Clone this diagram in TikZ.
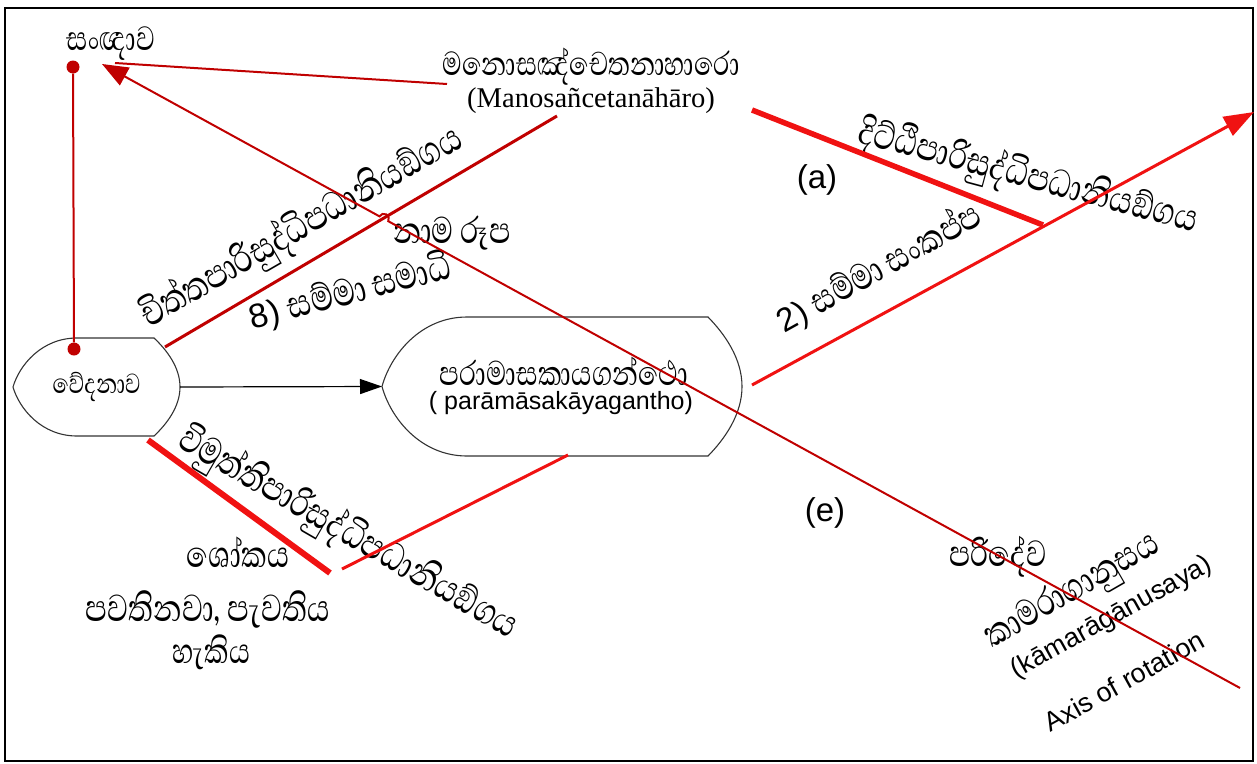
\documentclass[tikz,border=0pt]{standalone}
\usepackage{fontspec}
\usetikzlibrary{arrows.meta,calc}
\newfontfamily\slfont[Script=Sinhala]{Abhaya Libre}
\newfontfamily\arialf{Liberation Sans}
\newfontfamily\timesf{Liberation Serif}
\definecolor{dred}{RGB}{192,0,0}
\definecolor{bred}{RGB}{240,18,18}
\newcommand{\sfit}[2]{\scalebox{1}[1.3]{\resizebox{#1pt}{!}{\slfont #2}}}
\newcommand{\dispshape}[4]{%
  \draw[shapeline] ($(#1.north west)+(#2,0)$) -- ($(#1.north east)+(-#3,0)$)
    .. controls ($(#1.north east)+(-0.5*#3,0.25*#4)$) and ($(#1.east)+(0,-0.4*#4)$) .. (#1.east)
    .. controls ($(#1.east)+(0,0.4*#4)$) and ($(#1.south east)+(-0.5*#3,-0.25*#4)$) .. ($(#1.south east)+(-#3,0)$)
    -- ($(#1.south west)+(#2,0)$)
    .. controls ($(#1.south west)+(0.45*#2,0)$) and ($(#1.west)+(0.1*#2,0.45*#4)$) .. (#1.west)
    .. controls ($(#1.west)+(0.1*#2,-0.45*#4)$) and ($(#1.north west)+(0.45*#2,0)$) .. cycle;}
\begin{document}
\begin{tikzpicture}[x=1pt,y=-1pt,
  shapeline/.style={draw=black!80, line width=1.1pt},
  holder/.style={inner sep=0pt, outer sep=0pt},
  txt/.style={inner sep=0pt, outer sep=0pt},
  ar/.style={txt, font=\arialf\fontsize{25}{28}\selectfont},
  arbig/.style={txt, font=\arialf\fontsize{33}{36}\selectfont},
  dot/.style={circle, fill=dred, inner sep=0pt, minimum size=13pt},
  darkline/.style={draw=dred, line width=2pt},
  darkthick/.style={draw=dred, line width=3pt},
  brightline/.style={draw=bred, line width=3pt},
  brightthick/.style={draw=bred, line width=6pt},
  blackarrow/.style={draw=black, line width=1.2pt, -{Triangle[length=22pt,width=15pt]}}
]
\useasboundingbox (0,0) rectangle (1257,763);
\draw[line width=2.5pt] (5,8) rectangle (1253,761);

% shapes
\node[holder, minimum width=167pt, minimum height=98pt] (ved) at (96.5,387) {\sfit{88}{වේදනාව}};
\dispshape{ved}{64}{26}{49}
\node[holder, minimum width=360pt, minimum height=139pt] (par) at (562,386.5) {};
\dispshape{par}{85}{34}{69.5}
\node[txt] (parsi) at (564,371) {\sfit{248}{පරාමාසකායගන්ථො}};
\node[ar] (parla) at (561,403) {( parāmāsakāyagantho)};

\draw[blackarrow] (ved.east) -- (par.west);

% texts
\node[txt] (sanna) at (111,44) {\sfit{88}{සංඥාව}};
\node[txt] (mano) at (591,67) {\sfit{297}{මනොසඤ්චෙතනාහාරො}};
\node[txt, font=\timesf\fontsize{28.6}{32}\selectfont] (manola) at (591,101) {(Manosañcetanāhāro)};
\node[arbig] (la) at (817,180) {(a)};
\node[arbig] (le) at (825,513) {(e)};
\node[txt] (nama) at (452,233) {\sfit{117}{නාම රූප}};
\node[txt] (soka) at (238,552) {\sfit{103}{ශෝකය}};
\node[txt] (pav1) at (208,609) {\sfit{244}{පවතිනවා, පැවතිය}};
\node[txt] (pav2) at (211,652) {\sfit{78}{හැකිය}};
\node[txt] (pari) at (998,557) {\sfit{97}{පරිදේව}};
\node[txt, rotate=-15] (ditthi) at (1028,177) {\sfit{350}{දිට්ඨිපාරිසුද්ධිපධානියඞ්ගය}};
\node[txt, rotate=29] (sankappa) at (879,268) {{\arialf\fontsize{33}{36}\selectfont 2)}\hspace{9pt}\sfit{190}{සම්මා සංකප්ප}};
\node[txt, rotate=30] (citta) at (302,228) {\sfit{365}{චිත්තපාරිසුද්ධිපධානියඞ්ගය}};
\node[txt, rotate=14.5] (samadhi) at (350,292) {{\arialf\fontsize{34}{36}\selectfont 8)}\hspace{9pt}\sfit{168}{සම්මා සමාධි}};
\node[txt, rotate=-30] (vimutti) at (348,534) {\sfit{385}{විමුත්තිපාරිසුද්ධිපධානියඞ්ගය}};
\node[txt, rotate=30] (kama) at (1073,592) {\sfit{195}{කාමරාගානුසය}};
\node[ar, rotate=29, font=\arialf\fontsize{27}{30}\selectfont] (kamala) at (1112,618) {(kāmarāgānusaya)};
\node[ar, rotate=29, font=\arialf\fontsize{27}{30}\selectfont] (axis) at (1124,681) {Axis of rotation};

% connector end points
\node[dot] (dtop) at (73,67) {};
\node[dot] (dbot) at (74,349) {};
\coordinate (tipA) at (102,64);
\coordinate (tipB) at (115,63);
\coordinate (manoL) at (447,84);
\coordinate (axisEnd) at (1240,688);
\coordinate (hopA) at (388.26,221.18);
\coordinate (vedTR) at (165,347);
\coordinate (manoB) at (557,116);
\coordinate (manoR) at (752,110);
\coordinate (junc) at (1043,225);
\coordinate (parR) at (752,385);
\coordinate (arrowTip) at (1254,112);
\coordinate (vedBR) at (148,440);
\coordinate (vee) at (330,573);
\coordinate (vee2) at (342,569);
\coordinate (parB) at (568,455);

% red connectors
\draw[darkline] (dtop) -- (dbot);
\draw[darkline] (manoL) -- (tipB);
\draw[darkthick] (vedTR) -- (manoB);
\draw[darkline, -{Triangle[length=26pt,width=20pt]}] (axisEnd) -- (hopA)
   arc[start angle=-28.74, end angle=151.26, radius=5pt] -- (tipA);
\draw[brightthick, line width=5.5pt] (manoR) -- (junc);
\draw[brightline, -{Triangle[length=30pt,width=21pt]}] (parR) -- (arrowTip);
\draw[brightthick] (vedBR) -- (vee);
\draw[brightline] (vee2) -- (parB);
\end{tikzpicture}
\end{document}
